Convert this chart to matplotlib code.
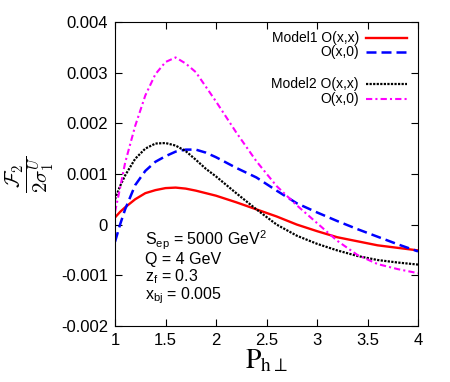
import matplotlib
matplotlib.use('Agg')
import matplotlib.pyplot as plt
from matplotlib.ticker import FuncFormatter, MultipleLocator

plt.rcParams['font.family'] = ['Liberation Sans', 'DejaVu Sans']
plt.rcParams['mathtext.fontset'] = 'custom'
plt.rcParams['mathtext.rm'] = 'Liberation Sans'
plt.rcParams['mathtext.it'] = 'Liberation Sans'
plt.rcParams['axes.unicode_minus'] = False

# P_h_perp and the four curves (values in units of 1e-3)
pt = [1.0, 1.05, 1.1, 1.2, 1.3, 1.4, 1.5, 1.6, 1.7, 1.8, 1.9, 2.0,
      2.2, 2.4, 2.6, 2.8, 3.0, 3.2, 3.4, 3.6, 3.8, 4.0]
m1_xx = [0.14, 0.25, 0.34, 0.50, 0.62, 0.68, 0.72, 0.73, 0.71, 0.67, 0.62, 0.57,
         0.44, 0.30, 0.16, 0.00, -0.13, -0.25, -0.33, -0.41, -0.46, -0.51]
m1_x0 = [-0.34, 0.00, 0.30, 0.78, 1.06, 1.24, 1.35, 1.44, 1.48, 1.48, 1.42, 1.33,
         1.12, 0.93, 0.67, 0.42, 0.24, 0.07, -0.09, -0.24, -0.39, -0.53]
m2_xx = [0.50, 0.76, 0.97, 1.30, 1.50, 1.60, 1.61, 1.56, 1.45, 1.28, 1.10, 0.95,
         0.62, 0.30, 0.00, -0.22, -0.38, -0.51, -0.62, -0.70, -0.75, -0.79]
m2_x0 = [0.25, 0.72, 1.22, 1.95, 2.55, 2.97, 3.21, 3.30, 3.18, 3.01, 2.72, 2.43,
         1.82, 1.25, 0.76, 0.38, 0.03, -0.32, -0.60, -0.78, -0.88, -0.96]

labels = ['Model1 O(x,x)', 'O(x,0)', 'Model2 O(x,x)', 'O(x,0)']
colors = ['#ff0000', '#0000ff', '#000000', '#ff00ff']
styles = ['-', (0, (4, 2)), (0, (1, 0.6)), (0, (3, 1.5, 1, 1.5))]
widths = [1.7, 1.8, 1.6, 1.5]
series = [m1_xx, m1_x0, m2_xx, m2_x0]

fig = plt.figure(figsize=(4.5, 3.82), dpi=100)
ax = fig.add_axes([0.2556, 0.147, 0.6733, 0.7954])

for vals, c, ls, lw in zip(series, colors, styles, widths):
    ax.plot(pt, [v * 1e-3 for v in vals], color=c, linestyle=ls, linewidth=lw)

ax.set_xlim(1, 4)
ax.set_ylim(-0.002, 0.004)
ax.xaxis.set_major_locator(MultipleLocator(0.5))
ax.yaxis.set_major_locator(MultipleLocator(0.001))
ax.xaxis.set_major_formatter(FuncFormatter(lambda v, p: f'{v:g}'))
ax.yaxis.set_major_formatter(FuncFormatter(lambda v, p: '0' if abs(v) < 1e-9 else f'{v:g}'))
ax.tick_params(direction='in', top=True, right=True, length=5, labelsize=12, pad=5)

# legend, right aligned text like gnuplot
rows = [0.947, 0.901, 0.796, 0.747]
for lab, c, ls, lw, yy in zip(labels, colors, styles, widths, rows):
    ax.text(0.805, yy, lab, transform=ax.transAxes, ha='right', va='center', fontsize=10)
    ax.plot([0.828, 0.964], [yy, yy], transform=ax.transAxes, color=c, linestyle=ls, linewidth=lw)

info = [r'S$_{\rm ep}$ = 5000 GeV$^{2}$', 'Q = 4 GeV', r'z$_{\rm f}$ = 0.3', r'x$_{\rm bj}$ = 0.005']
ax.text(0.099, 0.086, '\n'.join(info), transform=ax.transAxes, ha='left', va='baseline',
        fontsize=11.5, linespacing=1.0)

ax.set_xlabel(r'$\mathrm{P}_{\mathrm{h}\perp}$', fontsize=20, math_fontfamily='stix', labelpad=0)
ax.text(-0.28, 0.497, r'$\dfrac{\mathcal{F}_2}{2\sigma_1^U}$', transform=ax.transAxes,
        rotation=90, ha='center', va='center', fontsize=15, math_fontfamily='cm')

fig.savefig('out.png', dpi=100)
